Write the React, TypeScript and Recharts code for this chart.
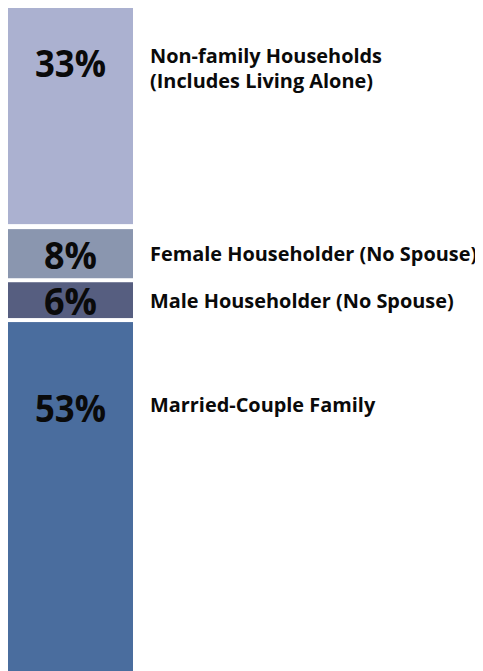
import React from 'react';
import { BarChart, Bar, XAxis, YAxis, LabelList } from 'recharts';

// ---- data ----
const categories = ['Households'];
const marriedCouple = [53];
const maleHouseholder = [6];
const femaleHouseholder = [8];
const nonFamily = [33];
const marriedLabel = ['Married-Couple Family'];
const maleLabel = ['Male Householder (No Spouse)'];
const femaleLabel = ['Female Householder (No Spouse)'];
const nonFamilyLabel = ['Non-family Households', '(Includes Living Alone)'];

const data = categories.map((name, i) => ({
  name,
  married: marriedCouple[i],
  male: maleHouseholder[i],
  female: femaleHouseholder[i],
  nonfamily: nonFamily[i],
}));

const FONT = '"Open Sans", "Noto Sans", sans-serif';
const TEXT = '#0a0a0a';

const makeShape = (fill: string, insetTop: number, insetBottom: number) => (props: any) => {
  const { x, y, width, height } = props;
  return (
    <rect
      x={x}
      y={y + insetTop}
      width={width}
      height={Math.max(0, height - insetTop - insetBottom)}
      fill={fill}
    />
  );
};

// pctDy / textDy: null => centred in segment, number => offset from segment top
const makeLabel = (lines: string[], pctDy: number | null, textDy: number | null) => (props: any) => {
  const { x, y, width, height, value } = props;
  const pctY = pctDy === null ? y + height / 2 : y + pctDy;
  const txtY = textDy === null ? y + height / 2 : y + textDy;
  const lh = 25;
  const startY = txtY - ((lines.length - 1) * lh) / 2;
  const pct = `${value}%`;
  return (
    <g>
      <text
        x={x + width / 2}
        y={pctY}
        textAnchor="middle"
        dominantBaseline="central"
        fontFamily={FONT}
        fontWeight={700}
        fontSize={38}
        textLength={pct.length === 3 ? 71 : 53}
        lengthAdjust="spacingAndGlyphs"
        fill={TEXT}
      >
        {pct}
      </text>
      {lines.map((ln, k) => (
        <text
          key={k}
          x={x + width + 17}
          y={startY + k * lh}
          dominantBaseline="central"
          fontFamily={FONT}
          fontWeight={700}
          fontSize={19.9}
          fill={TEXT}
        >
          {ln}
        </text>
      ))}
    </g>
  );
};

export default function App() {
  return (
    <div style={{ width: 467, height: 663 }}>
      <style>{'html,body{overflow:hidden}.recharts-surface{overflow:visible}.recharts-wrapper{overflow:visible}'}</style>
      <BarChart
        width={467}
        height={664}
        data={data}
        margin={{ top: 0, right: 342, bottom: 0, left: 0 }}
        barCategoryGap={0}
      >
        <XAxis dataKey="name" hide height={0} />
        <YAxis type="number" domain={[0, 100]} hide width={0} />
        <Bar dataKey="married" stackId="a" isAnimationActive={false} shape={makeShape('#4a6d9e', 2, 0)}>
          <LabelList dataKey="married" content={makeLabel(marriedLabel, 87, 84)} />
        </Bar>
        <Bar dataKey="male" stackId="a" isAnimationActive={false} shape={makeShape('#565e80', 2, 2)}>
          <LabelList dataKey="male" content={makeLabel(maleLabel, null, null)} />
        </Bar>
        <Bar dataKey="female" stackId="a" isAnimationActive={false} shape={makeShape('#8a96af', 2, 2)}>
          <LabelList dataKey="female" content={makeLabel(femaleLabel, null, null)} />
        </Bar>
        <Bar dataKey="nonfamily" stackId="a" isAnimationActive={false} shape={makeShape('#abb1d0', 0, 3)}>
          <LabelList dataKey="nonfamily" content={makeLabel(nonFamilyLabel, 54, 60)} />
        </Bar>
      </BarChart>
    </div>
  );
}
